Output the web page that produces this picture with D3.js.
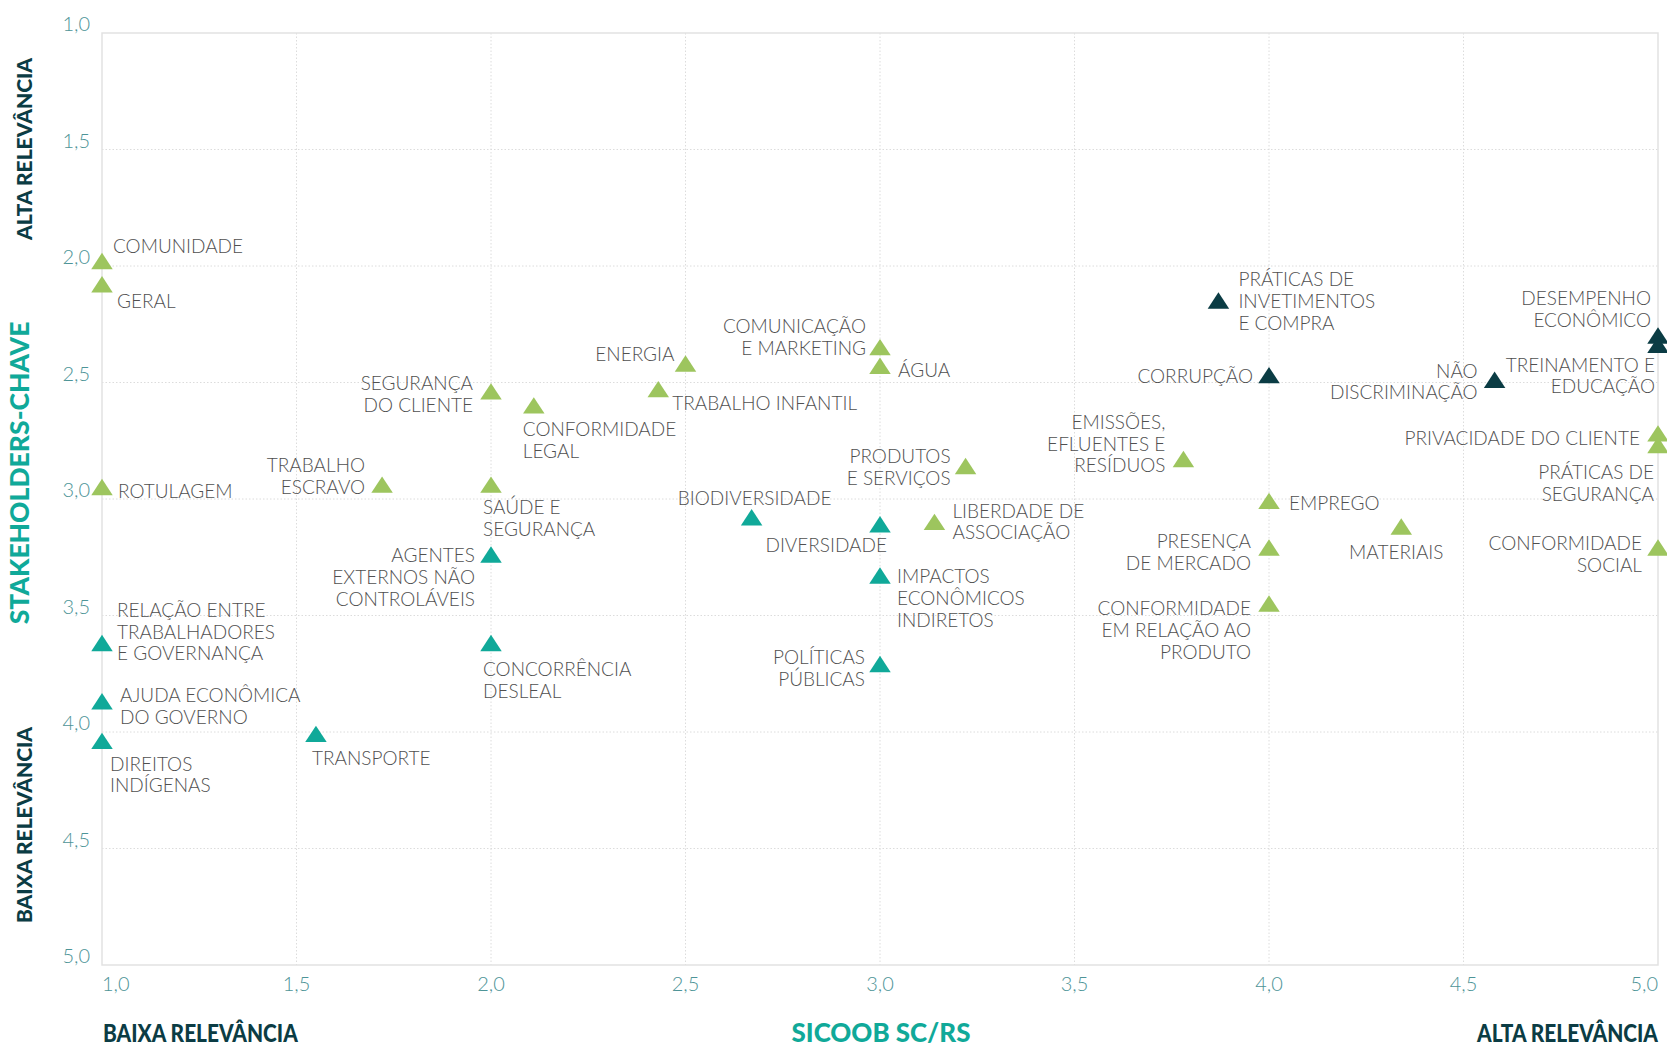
<!DOCTYPE html>
<html>
<head>
<meta charset="utf-8">
<script src="https://cdn.jsdelivr.net/npm/d3@7"></script>
<style>
  body { margin: 0; background: #fff; }
  svg { display: block; }
</style>
</head>
<body>
<div id="chart"></div>
<script>
'use strict'

// materiality topics, '\n' marks the line breaks used in the labels
const topics = [
  'COMUNIDADE', 'GERAL', 'ROTULAGEM', 'TRABALHO\nESCRAVO', 'SEGURANÇA\nDO CLIENTE',
  'SAÚDE E\nSEGURANÇA', 'CONFORMIDADE\nLEGAL', 'ENERGIA', 'TRABALHO INFANTIL', 'COMUNICAÇÃO\nE MARKETING',
  'ÁGUA', 'PRODUTOS\nE SERVIÇOS', 'LIBERDADE DE\nASSOCIAÇÃO', 'EMISSÕES,\nEFLUENTES E\nRESÍDUOS', 'EMPREGO',
  'PRESENÇA\nDE MERCADO', 'CONFORMIDADE\nEM RELAÇÃO AO\nPRODUTO', 'MATERIAIS', 'PRIVACIDADE DO CLIENTE', 'PRÁTICAS DE\nSEGURANÇA',
  'CONFORMIDADE\nSOCIAL',
  'BIODIVERSIDADE', 'DIVERSIDADE', 'IMPACTOS\nECONÔMICOS\nINDIRETOS', 'POLÍTICAS\nPÚBLICAS', 'AGENTES\nEXTERNOS NÃO\nCONTROLÁVEIS',
  'CONCORRÊNCIA\nDESLEAL', 'RELAÇÃO ENTRE\nTRABALHADORES\nE GOVERNANÇA', 'AJUDA ECONÔMICA\nDO GOVERNO', 'DIREITOS\nINDÍGENAS', 'TRANSPORTE',
  'PRÁTICAS DE\nINVETIMENTOS\nE COMPRA', 'CORRUPÇÃO', 'NÃO\nDISCRIMINAÇÃO', 'DESEMPENHO\nECONÔMICO', 'TREINAMENTO E\nEDUCAÇÃO'
]
// x: relevance for Sicoob SC/RS
const sicoobScores = [
  1.0, 1.0, 1.0, 1.72, 2.0,
  2.0, 2.11, 2.5, 2.43, 3.0,
  3.0, 3.22, 3.14, 3.78, 4.0,
  4.0, 4.0, 4.34, 5.0, 5.0,
  5.0,
  2.67, 3.0, 3.0, 3.0, 2.0,
  2.0, 1.0, 1.0, 1.0, 1.55,
  3.87, 4.0, 4.58, 5.0, 5.0
]
// y: relevance for key stakeholders (1 = high, 5 = low)
const stakeholderScores = [
  1.99, 2.09, 2.96, 2.95, 2.55,
  2.95, 2.61, 2.43, 2.54, 2.36,
  2.44, 2.87, 3.11, 2.84, 3.02,
  3.22, 3.46, 3.13, 2.73, 2.78,
  3.22,
  3.09, 3.12, 3.34, 3.72, 3.25,
  3.63, 3.63, 3.88, 4.05, 4.02,
  2.16, 2.48, 2.5, 2.31, 2.35
]
// 0 = light green, 1 = teal, 2 = dark
const topicGroup = [
  0, 0, 0, 0, 0, 0, 0, 0, 0, 0, 0, 0, 0, 0, 0, 0, 0, 0, 0, 0, 0,
  1, 1, 1, 1, 1, 1, 1, 1, 1, 1,
  2, 2, 2, 2, 2
]
const xTicks = [1, 1.5, 2, 2.5, 3, 3.5, 4, 4.5, 5]
const yTicks = [1, 1.5, 2, 2.5, 3, 3.5, 4, 4.5, 5]

// label placement: text-anchor, dx, dy (first line) from the marker
const labelPlacement = [
  ['start', 11, -19], ['start', 15, 13], ['start', 16, 0], ['end', -17, -23], ['end', -18, -12],
  ['start', -8, 19], ['start', -11, 20], ['end', -11, -13], ['start', 14, 10], ['end', -14, -25],
  ['start', 18, 0], ['end', -15, -14], ['start', 18, -15], ['end', -18, -41], ['start', 20, -2],
  ['end', -18, -10], ['end', -18, 1], ['middle', -5, 22], ['end', -18, 1], ['end', -4, 23],
  ['end', -16, -8],
  ['middle', 3, -23], ['end', 7, 17], ['start', 17, -3], ['end', -15, -11], ['end', -16, -3],
  ['start', -8, 22], ['start', 15, -37], ['start', 18, -10], ['start', 8, 19], ['start', -4, 20],
  ['start', 20, -25], ['end', -16, -3], ['end', -17, -13], ['end', -7, -41], ['end', -3, 16]
]

const colors = ['#9dc55e', '#10a999', '#0b3c44']
const W = 1667, H = 1049
const margin = { top: 33, right: 9, bottom: 84, left: 102 }
const lineH = 21.8

const svg = d3.select('#chart').append('svg')
  .attr('width', W).attr('height', H)

const x = d3.scaleLinear().domain([1, 5]).range([margin.left, W - margin.right])
const y = d3.scaleLinear().domain([1, 5]).range([margin.top, H - margin.bottom])

const fmt = d3.formatLocale({ decimal: ',', thousands: '.', grouping: [3], currency: ['R$', ''] }).format('.1f')

// grid (dotted) inside the plot
const grid = svg.append('g')
grid.selectAll('line.v').data(xTicks.slice(1, -1)).join('line')
  .attr('x1', d => x(d)).attr('x2', d => x(d))
  .attr('y1', y(1)).attr('y2', y(5))
  .attr('stroke', '#dcdcdc').attr('stroke-width', 1).attr('stroke-dasharray', '1.5,2')
grid.selectAll('line.h').data(yTicks.slice(1, -1)).join('line')
  .attr('y1', d => y(d)).attr('y2', d => y(d))
  .attr('x1', x(1)).attr('x2', x(5))
  .attr('stroke', '#dcdcdc').attr('stroke-width', 1).attr('stroke-dasharray', '1.5,2')

// frame
svg.append('rect')
  .attr('x', x(1)).attr('y', y(1))
  .attr('width', x(5) - x(1)).attr('height', y(5) - y(1))
  .attr('fill', 'none').attr('stroke', '#e2e2e2').attr('stroke-width', 1.5)

// y tick labels
svg.append('g').selectAll('text').data(yTicks).join('text')
  .attr('x', margin.left - 12).attr('y', d => y(d) - 2)
  .attr('text-anchor', 'end')
  .style('font-family', 'Lato').style('font-weight', 300).style('font-size', '20px')
  .attr('fill', '#4e9497')
  .text(d => fmt(d))

// x tick labels
svg.append('g').selectAll('text').data(xTicks).join('text')
  .attr('x', d => x(d)).attr('y', y(5) + 26)
  .attr('text-anchor', (d, i) => i == 0 ? 'start' : (i == xTicks.length - 1 ? 'end' : 'middle'))
  .style('font-family', 'Lato').style('font-weight', 300).style('font-size', '20px')
  .attr('fill', '#4e9497')
  .text(d => fmt(d))

// axis titles (rotated ones on the left)
const sideTitles = [
  { t: 'ALTA RELEVÂNCIA', x: 23, y: 149, c: colors[2], s: 21 },
  { t: 'STAKEHOLDERS-CHAVE', x: 19, y: 473, c: colors[1], s: 26.5 },
  { t: 'BAIXA RELEVÂNCIA', x: 23, y: 825, c: colors[2], s: 21 }
]
svg.append('g').selectAll('text').data(sideTitles).join('text')
  .attr('transform', d => `translate(${d.x},${d.y}) rotate(-90)`)
  .attr('text-anchor', 'middle').attr('dominant-baseline', 'central')
  .style('font-family', 'Lato').style('font-weight', 900).style('font-size', d => d.s + 'px')
  .attr('fill', d => d.c)
  .text(d => d.t)

// bottom titles, squeezed horizontally for the condensed look
const bottomTitles = [
  { t: 'BAIXA RELEVÂNCIA', x: 103, c: colors[2], s: 24, a: 'start', len: 195 },
  { t: 'SICOOB SC/RS', x: 881, c: colors[1], s: 26, a: 'middle', len: 179 },
  { t: 'ALTA RELEVÂNCIA', x: 1658, c: colors[2], s: 24, a: 'end', len: 181 }
]
svg.append('g').selectAll('text').data(bottomTitles).join('text')
  .attr('text-anchor', d => d.a)
  .style('font-family', 'Lato').style('font-weight', 900).style('font-size', d => d.s + 'px')
  .attr('fill', d => d.c)
  .text(d => d.t)
  .each(function (d) {
    const k = d.len / this.getComputedTextLength()
    d3.select(this).attr('transform', `translate(${d.x},1042) scale(${k},1)`)
  })

// points
const data = topics.map((t, i) => ({
  name: t, sx: sicoobScores[i], sy: stakeholderScores[i], g: topicGroup[i], lp: labelPlacement[i]
}))

const tri = d3.symbol().type(d3.symbolTriangle).size(200)
svg.append('g').selectAll('path').data(data).join('path')
  .attr('d', tri)
  .attr('transform', d => `translate(${x(d.sx)},${y(d.sy)}) scale(1,0.88)`)
  .attr('fill', d => colors[d.g])

const labels = svg.append('g').selectAll('text').data(data).join('text')
  .attr('x', d => x(d.sx) + d.lp[1])
  .attr('y', d => y(d.sy) + d.lp[2])
  .attr('text-anchor', d => d.lp[0])
  .attr('dominant-baseline', 'central')
  .style('font-family', 'Lato').style('font-weight', 300).style('font-size', '19px')
  .attr('fill', '#505050')

labels.each(function (d) {
  const lines = d.name.split('\n')
  d3.select(this).selectAll('tspan').data(lines).join('tspan')
    .attr('x', x(d.sx) + d.lp[1])
    .attr('dy', (l, i) => i == 0 ? 0 : lineH)
    .text(l => l)
})
</script>
</body>
</html>
